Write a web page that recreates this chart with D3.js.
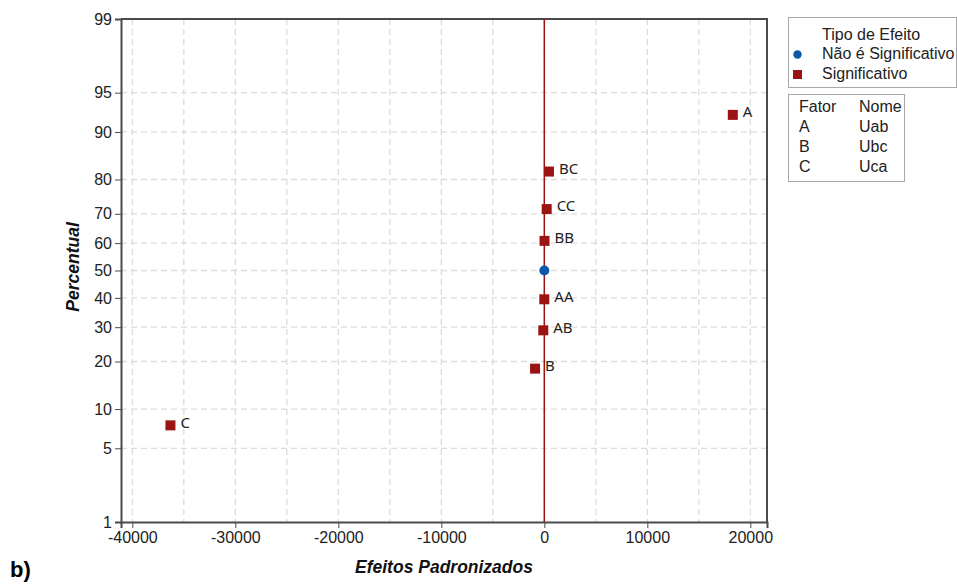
<!DOCTYPE html>
<html>
<head>
<meta charset="utf-8">
<script src="https://cdn.jsdelivr.net/npm/d3@7"></script>
<style>
  html, body { margin: 0; padding: 0; background: #fff; }
  svg { display: block; }
  .axis text { font-family: "Liberation Sans", Arial, sans-serif; font-size: 16px; fill: #222; }
  .axis path, .axis line { stroke: #4a4a4a; }
</style>
</head>
<body>
<svg id="chart" width="957" height="588"></svg>
<script>
// Effect terms, standardized effects and their normal-probability positions (%)
const terms = ["C", "B", "AB", "AA", "AC", "BB", "CC", "BC", "A"];
const effects = [-36300, -900, -100, 0, 0, 20, 230, 450, 18300];
const percents = [7.6, 18.2, 29, 39.5, 50, 60.8, 71.5, 82, 92.5];
const significant = [true, true, true, true, false, true, true, true, true];

const xTicks = [-40000, -30000, -20000, -10000, 0, 10000, 20000];
const xGrid = [-40000, -35000, -30000, -25000, -20000, -15000, -10000, -5000, 0, 5000, 10000, 15000, 20000];
const yTicks = [1, 5, 10, 20, 30, 40, 50, 60, 70, 80, 90, 95, 99];

const legendTypes = ["Não é Significativo", "Significativo"];
const factorCodes = ["A", "B", "C"];
const factorNames = ["Uab", "Ubc", "Uca"];

// Inverse standard normal CDF (Acklam's rational approximation)
function probit(p) {
  const a = [-3.969683028665376e+01, 2.209460984245205e+02, -2.759285104469687e+02,
             1.383577518672690e+02, -3.066479806614716e+01, 2.506628277459239e+00];
  const b = [-5.447609879822406e+01, 1.615858368580409e+02, -1.556989798598866e+02,
             6.680131188771972e+01, -1.328068155288572e+01];
  const c = [-7.784894002430293e-03, -3.223964580411365e-01, -2.400758277161838e+00,
             -2.549732539343734e+00, 4.374664141464968e+00, 2.938163982698783e+00];
  const d = [7.784695709041462e-03, 3.224671290700398e-01, 2.445134137142996e+00,
             3.754408661907416e+00];
  const pl = 0.02425, ph = 1 - pl;
  let q, r;
  if (p < pl) {
    q = Math.sqrt(-2 * Math.log(p));
    return (((((c[0]*q+c[1])*q+c[2])*q+c[3])*q+c[4])*q+c[5]) /
           ((((d[0]*q+d[1])*q+d[2])*q+d[3])*q+1);
  }
  if (p <= ph) {
    q = p - 0.5; r = q * q;
    return (((((a[0]*r+a[1])*r+a[2])*r+a[3])*r+a[4])*r+a[5])*q /
           (((((b[0]*r+b[1])*r+b[2])*r+b[3])*r+b[4])*r+1);
  }
  q = Math.sqrt(-2 * Math.log(1 - p));
  return -(((((c[0]*q+c[1])*q+c[2])*q+c[3])*q+c[4])*q+c[5]) /
          ((((d[0]*q+d[1])*q+d[2])*q+d[3])*q+1);
}

const svg = d3.select("#chart");
const plot = { left: 121, right: 767, top: 19, bottom: 522 };

const x = d3.scaleLinear()
  .domain([-41100, 21620])
  .range([plot.left, plot.right]);

// Normal probability axis: linear in z, labelled in percent
const z = d3.scaleLinear()
  .domain([probit(0.01), probit(0.99)])
  .range([plot.bottom, plot.top]);
const y = pct => z(probit(pct / 100));

const red = "#9b1313";
const blue = "#0a58a8";

// Grid
const grid = svg.append("g").attr("stroke", "#dcdcdc").attr("stroke-width", 1.3)
  .attr("stroke-dasharray", "6,4");
grid.selectAll("line.v").data(xGrid).join("line")
  .attr("x1", d => x(d)).attr("x2", d => x(d))
  .attr("y1", plot.top).attr("y2", plot.bottom);
grid.selectAll("line.h").data(yTicks.filter(t => t > 1 && t < 99)).join("line")
  .attr("x1", plot.left).attr("x2", plot.right)
  .attr("y1", d => y(d)).attr("y2", d => y(d));

// Frame (top and right)
svg.append("path")
  .attr("d", `M${plot.left},${plot.top}H${plot.right}V${plot.bottom}`)
  .attr("fill", "none").attr("stroke", "#4a4a4a").attr("stroke-width", 2);

// Axes
svg.append("g").attr("class", "axis")
  .attr("transform", `translate(0,${plot.bottom})`)
  .call(d3.axisBottom(x).tickValues(xTicks).tickFormat(d3.format("d")).tickSize(6).tickPadding(4))
  .call(g => g.select(".domain").attr("stroke-width", 2))
  .call(g => g.selectAll("text").text(d => String(d)));

svg.append("g").attr("class", "axis")
  .attr("transform", `translate(${plot.left},0)`)
  .call(d3.axisLeft(z).tickValues(yTicks.map(t => probit(t / 100)))
    .tickFormat((d, i) => yTicks[i]).tickSize(6).tickPadding(3))
  .call(g => g.select(".domain").attr("stroke-width", 2));

// Reference line at zero effect
svg.append("line")
  .attr("x1", x(0)).attr("x2", x(0))
  .attr("y1", plot.top).attr("y2", plot.bottom)
  .attr("stroke", red).attr("stroke-width", 1.5);

// Points
const pts = svg.append("g");
terms.forEach((t, i) => {
  const cx = x(effects[i]), cy = y(percents[i]);
  if (significant[i]) {
    pts.append("rect")
      .attr("x", cx - 5).attr("y", cy - 5).attr("width", 10).attr("height", 10)
      .attr("fill", red);
    pts.append("text")
      .attr("x", cx + 10).attr("y", cy - 3).attr("dy", "0.35em")
      .attr("font-family", "'Noto Sans', 'Open Sans', sans-serif")
      .attr("font-size", 15).attr("fill", "#222")
      .text(t);
  } else {
    pts.append("circle").attr("cx", cx).attr("cy", cy).attr("r", 5).attr("fill", blue);
  }
});

// Axis titles
svg.append("text")
  .attr("x", (plot.left + plot.right) / 2).attr("y", 567).attr("dy", "0.35em")
  .attr("text-anchor", "middle")
  .attr("font-family", "'Liberation Sans', Arial, sans-serif")
  .attr("font-size", 17.5).attr("font-weight", "bold").attr("font-style", "italic")
  .attr("fill", "#111")
  .text("Efeitos Padronizados");

svg.append("text")
  .attr("transform", `translate(73,267) rotate(-90)`).attr("dy", "0.35em")
  .attr("text-anchor", "middle")
  .attr("font-family", "'Liberation Sans', Arial, sans-serif")
  .attr("font-size", 17.5).attr("font-weight", "bold").attr("font-style", "italic")
  .attr("fill", "#111")
  .text("Percentual");

// Panel tag
svg.append("text")
  .attr("x", 10).attr("y", 577)
  .attr("font-family", "'Liberation Sans', Arial, sans-serif")
  .attr("font-size", 22).attr("font-weight", "bold").attr("fill", "#000")
  .text("b)");

// Legend: effect type
const legFont = "'Liberation Sans', Arial, sans-serif";
const leg1 = svg.append("g");
leg1.append("rect").attr("x", 788.5).attr("y", 17.5).attr("width", 168).attr("height", 70)
  .attr("fill", "#fff").attr("stroke", "#a8a8a8");
leg1.append("text").attr("x", 822).attr("y", 34).attr("dy", "0.35em")
  .attr("font-family", legFont).attr("font-size", 16).attr("fill", "#222")
  .text("Tipo de Efeito");
legendTypes.forEach((lbl, i) => {
  const cy = 53.5 + i * 19.5;
  if (i === 0) {
    leg1.append("circle").attr("cx", 797.5).attr("cy", cy + 1).attr("r", 4.2).attr("fill", blue);
  } else {
    leg1.append("rect").attr("x", 793).attr("y", cy - 3).attr("width", 9).attr("height", 9).attr("fill", red);
  }
  leg1.append("text").attr("x", 822).attr("y", cy).attr("dy", "0.35em")
    .attr("font-family", legFont).attr("font-size", 16).attr("fill", "#222")
    .text(lbl);
});

// Legend: factor names
const leg2 = svg.append("g");
leg2.append("rect").attr("x", 788.5).attr("y", 94.5).attr("width", 116).attr("height", 87)
  .attr("fill", "#fff").attr("stroke", "#a8a8a8");
const headY = 106.7;
leg2.append("text").attr("x", 799).attr("y", headY).attr("dy", "0.35em")
  .attr("font-family", legFont).attr("font-size", 16).attr("fill", "#222").text("Fator");
leg2.append("text").attr("x", 859).attr("y", headY).attr("dy", "0.35em")
  .attr("font-family", legFont).attr("font-size", 16).attr("fill", "#222").text("Nome");
factorCodes.forEach((code, i) => {
  const cy = headY + 20 * (i + 1);
  leg2.append("text").attr("x", 799).attr("y", cy).attr("dy", "0.35em")
    .attr("font-family", legFont).attr("font-size", 16).attr("fill", "#222").text(code);
  leg2.append("text").attr("x", 859).attr("y", cy).attr("dy", "0.35em")
    .attr("font-family", legFont).attr("font-size", 16).attr("fill", "#222").text(factorNames[i]);
});
</script>
</body>
</html>
